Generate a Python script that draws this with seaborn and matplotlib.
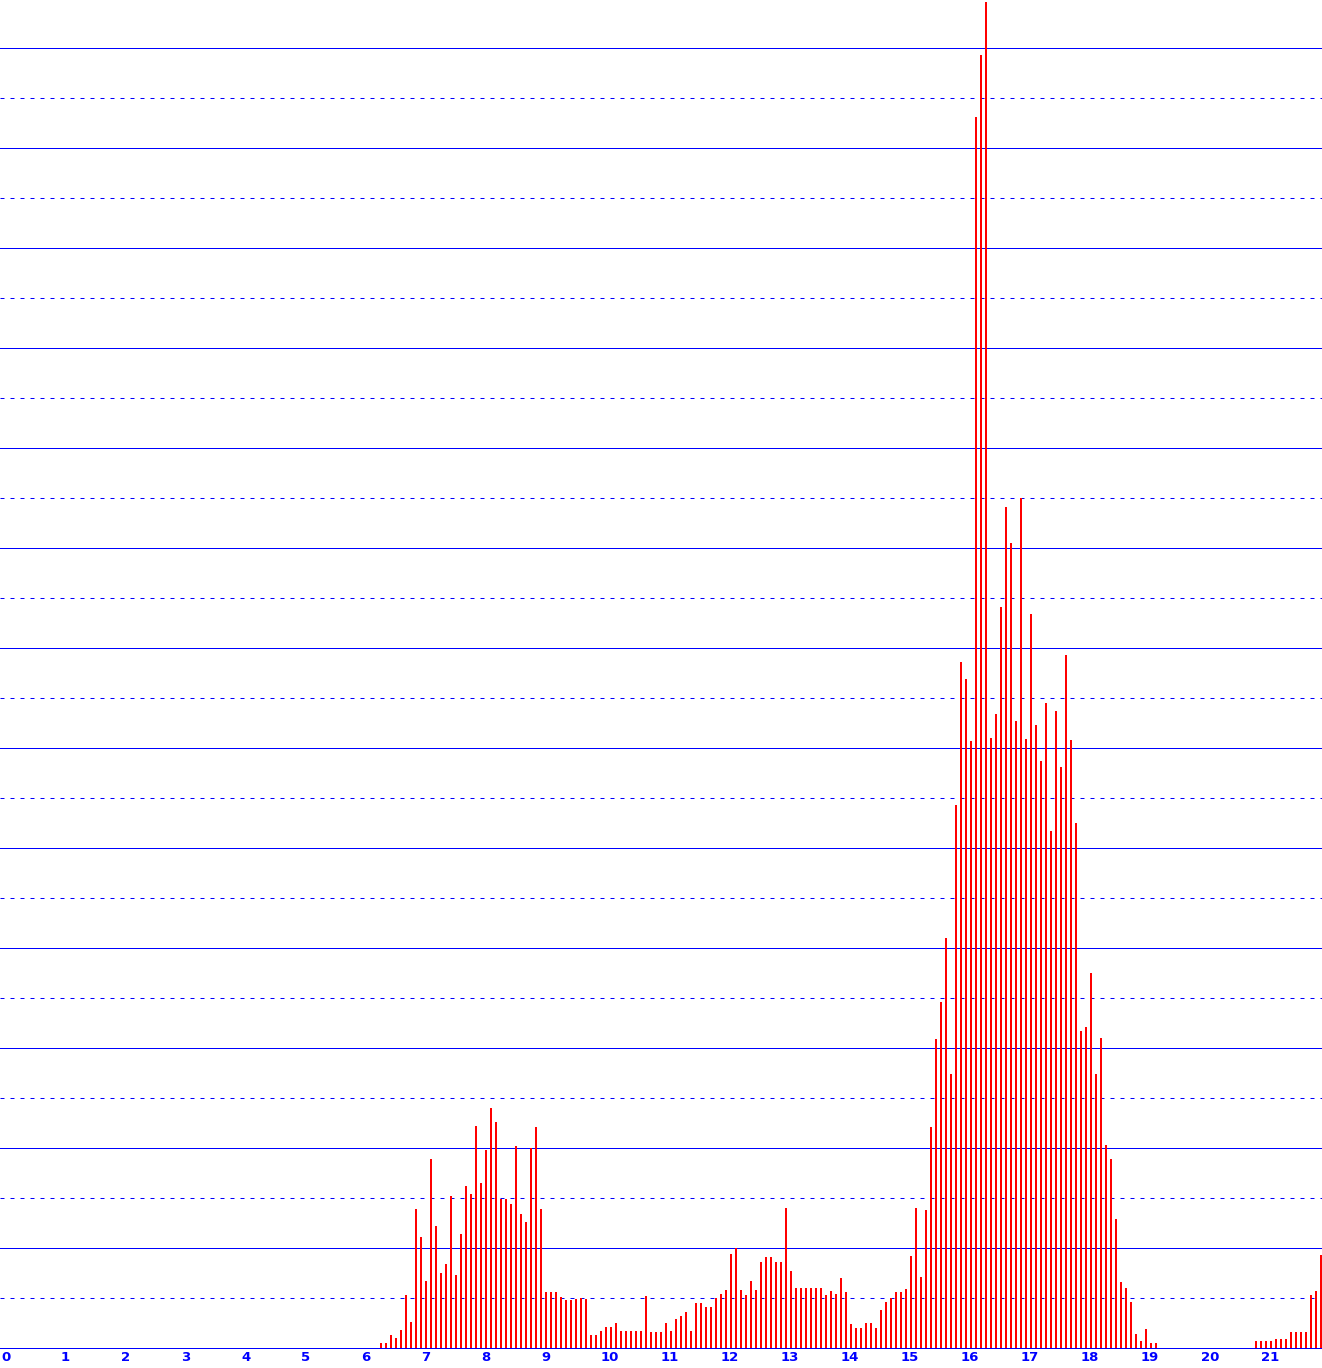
import numpy as np
import pandas as pd
import seaborn as sns
import matplotlib.pyplot as plt

# 5-minute bins from 06:20 to 22:00 (minutes since midnight)
start_minute = 6 * 60 + 20
bin_minutes = 5

counts = [
    5, 5, 13, 10, 18, 53, 26, 139, 111, 67, 189, 122,
    75, 84, 152, 73, 114, 162, 154, 222, 165, 198, 240, 226,
    149, 149, 144, 202, 134, 126, 200, 221, 139, 56, 56, 56,
    51, 48, 48, 49, 50, 49, 13, 13, 17, 21, 21, 25,
    17, 17, 17, 17, 17, 52, 16, 16, 16, 25, 17, 29,
    32, 36, 17, 45, 45, 41, 41, 50, 54, 58, 94, 100,
    58, 53, 67, 58, 86, 91, 91, 86, 86, 140, 77, 60,
    60, 60, 60, 60, 60, 53, 57, 54, 70, 56, 24, 20,
    20, 25, 25, 20, 38, 46, 50, 56, 56, 59, 92, 140,
    71, 138, 221, 309, 346, 410, 274, 543, 686, 669, 607, 1231,
    1293, 1346, 610, 634, 741, 841, 805, 627, 850, 609, 734, 623,
    587, 645, 517, 637, 581, 693, 608, 525, 317, 321, 375, 274,
    310, 203, 189, 129, 66, 60, 46, 14, 7, 19, 5, 5,
    0, 0, 0, 0, 0, 0, 0, 0, 0, 0, 0, 0,
    0, 0, 0, 0, 0, 0, 0, 7, 7, 7, 7, 9,
    9, 9, 16, 16, 16, 16, 53, 57, 93,
]
minutes = start_minute + bin_minutes * np.arange(len(counts))
hour_labels = [str(h) for h in range(22)]

df = pd.DataFrame({"minute": minutes, "count": counts})

W, H, DPI = 1322, 1368, 100
fig = plt.figure(figsize=(W / DPI, H / DPI), dpi=DPI)
ax = fig.add_axes([0, 20 / H, 1, 1348 / H])

sns.barplot(
    data=df,
    x="minute",
    y="count",
    native_scale=True,
    width=0.4,
    color="#ff0000",
    saturation=1,
    linewidth=0,
    errorbar=None,
    ax=ax,
)

ax.set_xlim(-1, 1321)
ax.set_ylim(0, 1348)

# grid: solid every 100, dashed in between
ax.set_yticks(np.arange(100, 1348, 100))
ax.set_yticks(np.arange(50, 1348, 100), minor=True)
ax.grid(axis="y", which="major", color="#0000ff", lw=0.72, ls="-")
ax.grid(axis="y", which="minor", color="#0000ff", lw=0.72, ls=(0, (4, 6)))
ax.grid(axis="x", visible=False)
ax.set_axisbelow(True)
ax.tick_params(axis="y", which="both", length=0, labelleft=False)

ax.set_xticks(np.arange(22) * 60)
ax.set_xticklabels(hour_labels, ha="left", color="#0000ff",
                   fontsize=9.5, fontweight="bold", family="DejaVu Sans")
ax.tick_params(axis="x", length=0, pad=2)

for side in ["top", "left", "right"]:
    ax.spines[side].set_visible(False)
ax.spines["bottom"].set_color("#0000ff")
ax.spines["bottom"].set_linewidth(0.72)

ax.set_xlabel("")
ax.set_ylabel("")
ax.set_facecolor("white")

fig.savefig("out.png", dpi=DPI, facecolor="white")
